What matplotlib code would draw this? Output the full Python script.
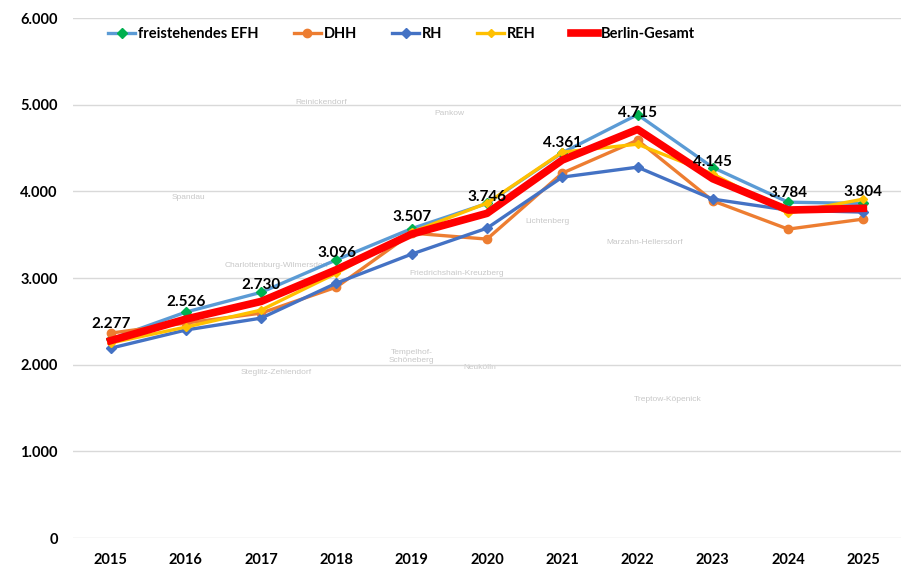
import matplotlib.pyplot as plt
from matplotlib.ticker import FuncFormatter

plt.rcParams['font.family'] = ['Lato', 'DejaVu Sans']

years = [2015, 2016, 2017, 2018, 2019, 2020, 2021, 2022, 2023, 2024, 2025]
efh = [2295, 2607, 2835, 3210, 3570, 3860, 4445, 4885, 4275, 3875, 3860]
dhh = [2364, 2480, 2595, 2895, 3518, 3449, 4210, 4590, 3890, 3564, 3680]
rh = [2190, 2400, 2537, 2941, 3276, 3575, 4164, 4279, 3910, 3783, 3760]
reh = [2250, 2434, 2630, 3056, 3530, 3864, 4452, 4544, 4200, 3748, 3910]
gesamt = [2277, 2526, 2730, 3096, 3507, 3746, 4361, 4715, 4145, 3784, 3804]

districts = ["Reinickendorf", "Pankow", "Spandau", "Lichtenberg", "Charlottenburg-Wilmersdorf",
             "Friedrichshain-Kreuzberg", "Marzahn-Hellersdorf", "Tempelhof-\nSchöneberg",
             "Neukölln", "Steglitz-Zehlendorf", "Treptow-Köpenick"]
district_pos = [(2017.8, 5020), (2019.5, 4900), (2016.03, 3930), (2020.8, 3650), (2017.2, 3140),
                (2019.6, 3050), (2022.1, 3410), (2019.0, 2100), (2019.9, 1970), (2017.2, 1910),
                (2022.4, 1600)]

fig = plt.figure(figsize=(9.24, 5.77), dpi=100)
ax = fig.add_axes([73 / 924, 39 / 577, 828 / 924, 520 / 577])

for name, (x, y) in zip(districts, district_pos):
    ax.text(x, y, name, color='#C8C8C8', fontsize=6, ha='center', va='center',
            family=['Liberation Sans', 'DejaVu Sans'], zorder=0)

ax.plot(years, efh, color='#5B9BD5', lw=2.4, marker='D', ms=5.5,
        mfc='#00B050', mec='#00B050', label='freistehendes EFH', zorder=3)
ax.plot(years, dhh, color='#ED7D31', lw=2.4, marker='o', ms=6,
        mfc='#ED7D31', mec='#ED7D31', label='DHH', zorder=3)
ax.plot(years, rh, color='#4472C4', lw=2.4, marker='D', ms=5.5,
        mfc='#4472C4', mec='#4472C4', label='RH', zorder=3)
ax.plot(years, reh, color='#FFC000', lw=2.4, marker='D', ms=4,
        mfc='#FFC000', mec='#FFC000', label='REH', zorder=3)
ax.plot(years, gesamt, color='#FF0000', lw=5.5, label='Berlin-Gesamt', zorder=4,
        solid_joinstyle='round')

for x, v in zip(years, gesamt):
    ax.annotate(f"{v:,}".replace(",", "."), (x, v), xytext=(0, 12), textcoords='offset points',
                ha='center', va='center', fontsize=11, fontweight='bold', color='black', zorder=5)

ax.set_xlim(2014.5, 2025.5)
ax.set_ylim(0, 6000)
ax.set_yticks(range(0, 6001, 1000))
ax.set_xticks(years)
ax.yaxis.set_major_formatter(FuncFormatter(lambda v, p: f"{int(v):,}".replace(",", ".")))
ax.grid(axis='y', color='#D9D9D9', lw=1)
ax.set_axisbelow(True)
for s in ax.spines.values():
    s.set_visible(False)
ax.tick_params(length=0, labelsize=10.5)
ax.tick_params(axis='x', pad=11)
ax.tick_params(axis='y', pad=11)
for lab in ax.get_xticklabels() + ax.get_yticklabels():
    lab.set_fontweight('bold')

ax.legend(loc='upper center', bbox_to_anchor=(0.397, 1.007), ncol=5, frameon=False,
          prop={'weight': 'bold', 'size': 10.5}, handlelength=1.85,
          handletextpad=0.2, columnspacing=2.4)

fig.savefig("out.png", dpi=100)
